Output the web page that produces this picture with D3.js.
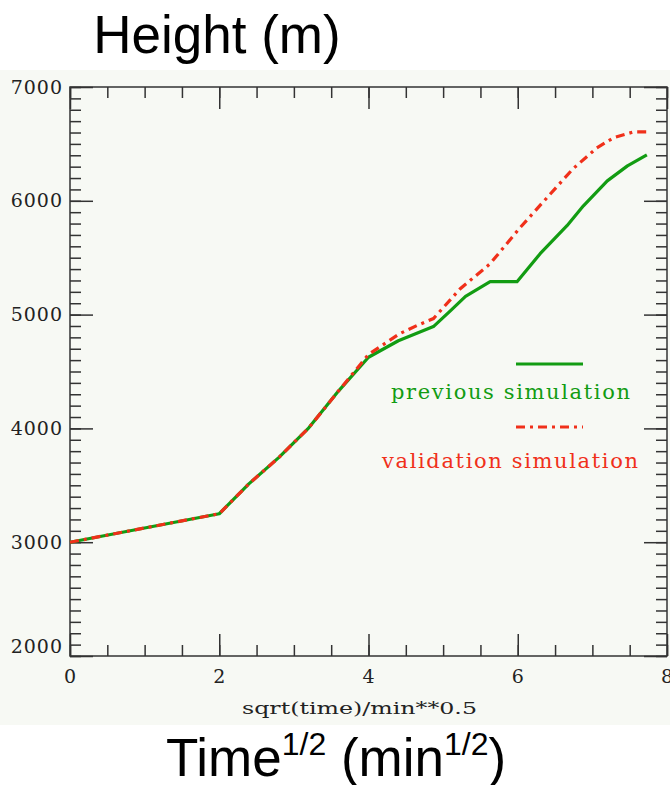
<!DOCTYPE html>
<html>
<head>
<meta charset="utf-8">
<script src="https://cdn.jsdelivr.net/npm/d3@7"></script>
<style>
  body { margin: 0; background: #fff; }
  svg { display: block; }
</style>
</head>
<body>
<div id="chart"></div>
<script>
// values
var prevX = [0, 2, 2.4, 2.8, 3.2, 3.6, 4, 4.4, 4.87, 5.1, 5.3, 5.63, 5.99, 6.3, 6.66, 6.88, 7.2, 7.47, 7.73];
var prevH = [3000, 3250, 3515, 3745, 4005, 4330, 4625, 4770, 4895, 5035, 5160, 5289, 5289, 5535, 5781, 5956, 6175, 6307, 6404];
var valX = [0, 2, 2.4, 2.8, 3.2, 3.6, 4, 4.42, 4.65, 4.87, 5.23, 5.63, 6.03, 6.39, 6.74, 7.06, 7.28, 7.55, 7.73];
var valH = [3000, 3250, 3515, 3745, 4005, 4330, 4650, 4833, 4904, 4965, 5228, 5447, 5763, 6026, 6281, 6465, 6553, 6605, 6605];
var xTicks = [0, 2, 4, 6, 8];
var yTicks = [2000, 3000, 4000, 5000, 6000, 7000];
var seriesNames = ["previous simulation", "validation simulation"];

(function() {
var W = 670, H = 785;
var pLeft = 70, pRight = 667, pTop = 87, pBottom = 656;
var green = "#129c12", red = "#f0301a";

var svg = d3.select("#chart").append("svg")
	.attr("width", W)
	.attr("height", H);

// tinted background of the pasted plot
svg.append("rect")
	.attr("x", 0).attr("y", 70)
	.attr("width", W).attr("height", 655)
	.attr("fill", "#f7f9f4");

var x = d3.scaleLinear().domain([0, 8]).range([pLeft, pRight]);
var y = d3.scaleLinear().domain([2000, 7000]).range([pBottom, pTop]);

var tickFont = function(g) {
	g.select(".domain").remove();
	g.selectAll("line").attr("stroke", "#333").attr("stroke-width", 1.5);
	g.selectAll("text")
		.attr("font-family", "DejaVu Serif")
		.attr("font-size", 19)
		.attr("letter-spacing", 1)
		.attr("fill", "#222");
};

// minor ticks, all four sides
svg.append("g").attr("transform", "translate(" + pLeft + ",0)")
	.call(d3.axisLeft(y).ticks(50).tickSizeInner(-11).tickSizeOuter(0).tickFormat(""))
	.call(tickFont);
svg.append("g").attr("transform", "translate(" + pRight + ",0)")
	.call(d3.axisRight(y).ticks(50).tickSizeInner(-11).tickSizeOuter(0).tickFormat(""))
	.call(tickFont);
svg.append("g").attr("transform", "translate(0," + pBottom + ")")
	.call(d3.axisBottom(x).ticks(16).tickSizeInner(-11).tickSizeOuter(0).tickFormat(""))
	.call(tickFont);
svg.append("g").attr("transform", "translate(0," + pTop + ")")
	.call(d3.axisTop(x).ticks(16).tickSizeInner(-11).tickSizeOuter(0).tickFormat(""))
	.call(tickFont);

// major ticks + labels
var yl = svg.append("g").attr("transform", "translate(" + pLeft + ",0)")
	.call(d3.axisLeft(y).tickValues(yTicks).tickSizeInner(-23).tickSizeOuter(0).tickPadding(7).tickFormat(d3.format("d")))
	.call(tickFont);
yl.selectAll(".tick").filter(function(d) { return d === 2000; }).select("text").attr("dy", "-0.2em");
svg.append("g").attr("transform", "translate(" + pRight + ",0)")
	.call(d3.axisRight(y).tickValues(yTicks).tickSizeInner(-23).tickSizeOuter(0).tickFormat(""))
	.call(tickFont);
svg.append("g").attr("transform", "translate(0," + pBottom + ")")
	.call(d3.axisBottom(x).tickValues(xTicks).tickSizeInner(-22).tickSizeOuter(0).tickPadding(14).tickFormat(d3.format("d")))
	.call(tickFont);
svg.append("g").attr("transform", "translate(0," + pTop + ")")
	.call(d3.axisTop(x).tickValues(xTicks).tickSizeInner(-22).tickSizeOuter(0).tickFormat(""))
	.call(tickFont);

// frame
svg.append("rect")
	.attr("x", pLeft).attr("y", pTop)
	.attr("width", pRight - pLeft).attr("height", pBottom - pTop)
	.attr("fill", "none")
	.attr("stroke", "#333")
	.attr("stroke-width", 1.5);

svg.append("text")
	.attr("x", 242)
	.attr("y", 714)
	.attr("font-family", "DejaVu Serif")
	.attr("font-size", 17)
	.attr("textLength", 235)
	.attr("lengthAdjust", "spacingAndGlyphs")
	.attr("fill", "#222")
	.text("sqrt(time)/min**0.5");

// lines
var line = d3.line()
	.x(function(d) { return x(d[0]); })
	.y(function(d) { return y(d[1]); });

svg.append("path")
	.datum(d3.zip(prevX, prevH))
	.attr("d", line)
	.attr("fill", "none")
	.attr("stroke", green)
	.attr("stroke-width", 3.2)
	.attr("stroke-linejoin", "round");

svg.append("path")
	.datum(d3.zip(valX, valH))
	.attr("d", line)
	.attr("fill", "none")
	.attr("stroke", red)
	.attr("stroke-width", 3.2)
	.attr("stroke-dasharray", "9,5,3,5");

// legend
svg.append("line")
	.attr("x1", 516).attr("x2", 583).attr("y1", 364).attr("y2", 364)
	.attr("stroke", green).attr("stroke-width", 3);
svg.append("text")
	.attr("x", 391).attr("y", 399)
	.attr("font-family", "DejaVu Serif").attr("font-size", 21)
	.attr("textLength", 239).attr("lengthAdjust", "spacing")
	.attr("fill", green)
	.text(seriesNames[0]);
svg.append("line")
	.attr("x1", 516).attr("x2", 583).attr("y1", 427).attr("y2", 427)
	.attr("stroke", red).attr("stroke-width", 3)
	.attr("stroke-dasharray", "9,5,3,5");
svg.append("text")
	.attr("x", 382).attr("y", 468)
	.attr("font-family", "DejaVu Serif").attr("font-size", 21)
	.attr("textLength", 256).attr("lengthAdjust", "spacing")
	.attr("fill", red)
	.text(seriesNames[1]);

// slide titles
svg.append("text")
	.attr("x", 217).attr("y", 53)
	.attr("text-anchor", "middle")
	.attr("font-family", "Liberation Sans, Arial, sans-serif")
	.attr("font-size", 53)
	.attr("fill", "#000")
	.text("Height (m)");

var tt = svg.append("text")
	.attr("x", 336).attr("y", 776)
	.attr("text-anchor", "middle")
	.attr("font-family", "Liberation Sans, Arial, sans-serif")
	.attr("font-size", 53)
	.attr("fill", "#000");
tt.append("tspan").text("Time");
tt.append("tspan").attr("font-size", 32).attr("dy", -21).text("1/2");
tt.append("tspan").attr("dy", 21).text(" (min");
tt.append("tspan").attr("font-size", 32).attr("dy", -21).text("1/2");
tt.append("tspan").attr("dy", 21).text(")");
})();
</script>
</body>
</html>
